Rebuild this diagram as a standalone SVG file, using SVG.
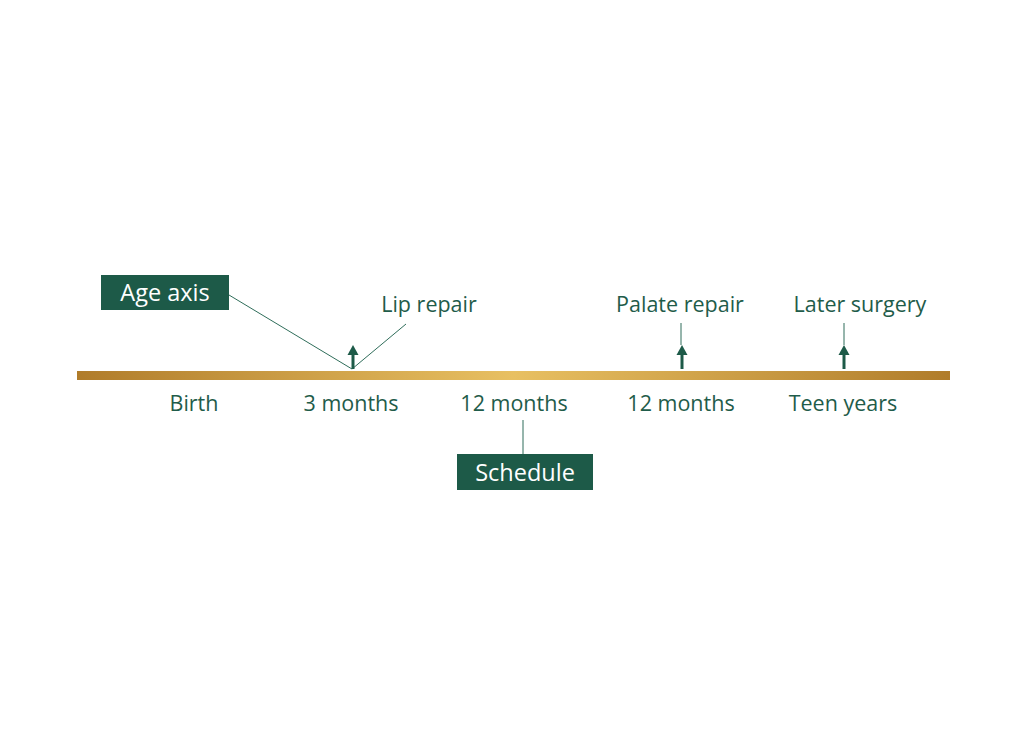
<svg xmlns="http://www.w3.org/2000/svg" width="1024" height="747" viewBox="0 0 1024 747">
<defs>
<linearGradient id="axisGrad" x1="0" y1="0" x2="1" y2="0">
<stop offset="0" stop-color="#b07c2a"/>
<stop offset="0.5" stop-color="#e8c062"/>
<stop offset="1" stop-color="#b07c2a"/>
</linearGradient>
<style>
.lbl{font-family:"Open Sans","Noto Sans",sans-serif;font-size:21.5px;fill:#1f5c4a;text-anchor:middle}
.boxt{font-family:"Open Sans","Noto Sans",sans-serif;font-size:23.5px;fill:#ffffff;text-anchor:middle}
.box{fill:#1d5a48}
.thin{stroke:#2f6d5a;stroke-width:1;fill:none}
.arr{stroke:#1d5a48;stroke-width:3;fill:none}
.head{fill:#1d5a48}
</style>
</defs>
<rect width="1024" height="747" fill="#ffffff"/>
<g id="axis">
<rect x="77" y="371" width="873" height="9" fill="url(#axisGrad)"/>
</g>
<g id="connectors">
<line class="thin" x1="229" y1="295" x2="352" y2="369"/>
<line class="thin" x1="352" y1="369" x2="406" y2="324"/>
<line class="thin" x1="681" y1="323" x2="681" y2="345"/>
<line class="thin" x1="844" y1="323" x2="844" y2="345"/>
<line class="thin" x1="523" y1="420" x2="523" y2="454"/>
<line class="arr" x1="353" y1="369" x2="353" y2="354"/>
<polygon class="head" points="353,345 347.5,355 358.5,355"/>
<line class="arr" x1="682" y1="369" x2="682" y2="354"/>
<polygon class="head" points="682,345 676.5,355 687.5,355"/>
<line class="arr" x1="844" y1="369" x2="844" y2="354"/>
<polygon class="head" points="844,345 838.5,355 849.5,355"/>
</g>
<g id="age-axis">
<rect class="box" x="101" y="275" width="128" height="35"/>
<text class="boxt" x="165" y="301">Age axis</text>
</g>
<g id="schedule">
<rect class="box" x="457" y="454" width="136" height="36"/>
<text class="boxt" x="525" y="481">Schedule</text>
</g>
<g id="lip-repair"><text class="lbl" x="429" y="312">Lip repair</text></g>
<g id="palate-repair"><text class="lbl" x="680" y="312">Palate repair</text></g>
<g id="later-surgery"><text class="lbl" x="860" y="312">Later surgery</text></g>
<g id="birth"><text class="lbl" x="194" y="411">Birth</text></g>
<g id="m3"><text class="lbl" x="351" y="411">3 months</text></g>
<g id="m12a"><text class="lbl" x="514" y="411">12 months</text></g>
<g id="m12b"><text class="lbl" x="681" y="411">12 months</text></g>
<g id="teen"><text class="lbl" x="843" y="411">Teen years</text></g>
</svg>
